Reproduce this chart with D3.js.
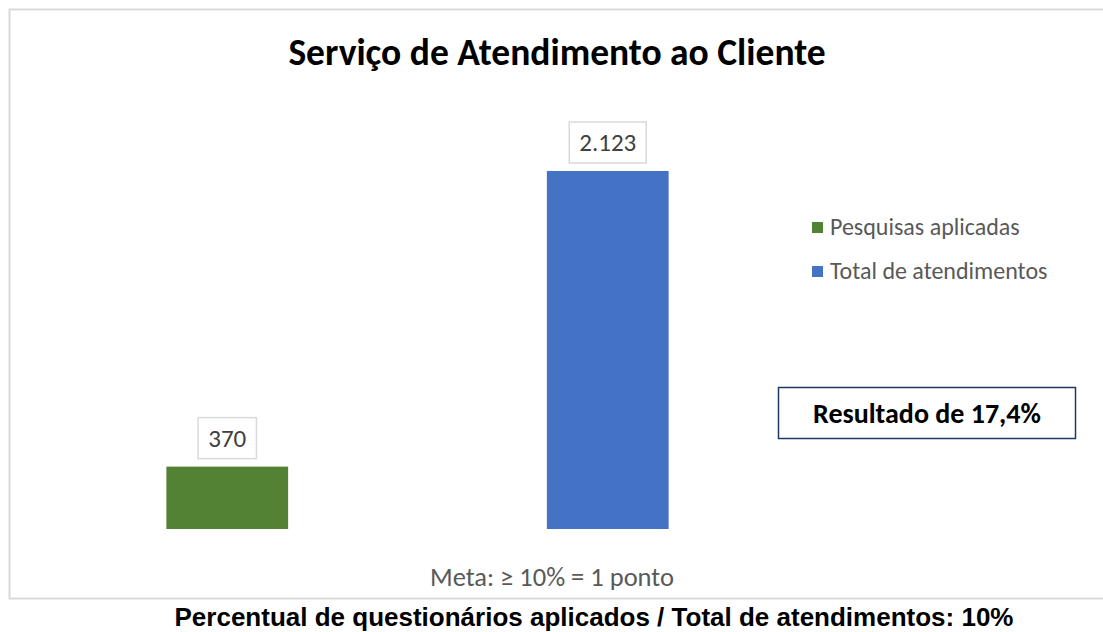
<!DOCTYPE html>
<html><head><meta charset="utf-8">
<script src="https://cdn.jsdelivr.net/npm/d3@7"></script>
<style>body{margin:0;background:#fff}svg{display:block}</style>
</head><body>
<script>
const categories = ["Pesquisas aplicadas", "Total de atendimentos"];
const values = [370, 2123];
const valueLabels = ["370", "2.123"];
const colors = ["#548235", "#4472c4"];
const title = "Serviço de Atendimento ao Cliente";
const resultText = "Resultado de 17,4%";
const metaText = "Meta: ≥ 10% = 1 ponto";
const footText = "Percentual de questionários aplicados / Total de atendimentos: 10%";

const W = 1103, H = 632;
const svg = d3.select("body").append("svg").attr("width", W).attr("height", H);

// chart frame
svg.append("path").attr("d", "M1110,9.5 H9.5 V598.5 H1110")
  .attr("fill", "none").attr("stroke", "#d9d9d9").attr("stroke-width", 2);

const calibri = "Carlito, 'Open Sans', 'Noto Sans', sans-serif";

svg.append("text").attr("x", 557).attr("y", 65).attr("text-anchor", "middle")
  .attr("font-family", calibri).attr("font-weight", "bold").attr("font-size", 37.5)
  .attr("fill", "#000").text(title);

const x = d3.scaleBand().domain(categories).range([37, 798]).paddingInner(0.68).paddingOuter(0.34);
const y = d3.scaleLinear().domain([0, 2123]).range([529, 171]);

svg.selectAll("rect.bar").data(categories).enter().append("rect")
  .attr("x", d => x(d)).attr("width", x.bandwidth())
  .attr("y", (d, i) => y(values[i])).attr("height", (d, i) => y(0) - y(values[i]))
  .attr("fill", (d, i) => colors[i]);

// data labels
const lab = svg.selectAll("g.lab").data(categories).enter().append("g");
lab.each(function(d, i) {
  const g = d3.select(this);
  const cx = x(d) + x.bandwidth() / 2;
  const t = g.append("text").attr("x", cx).attr("y", y(values[i]) - 20)
    .attr("text-anchor", "middle").attr("font-family", calibri).attr("font-size", 25)
    .attr("fill", "#404040").text(valueLabels[i]);
  const bb = t.node().getBBox();
  g.insert("rect", "text").attr("x", cx - bb.width / 2 - 10).attr("y", y(values[i]) - 49)
    .attr("width", bb.width + 20).attr("height", 41)
    .attr("fill", "#fff").attr("stroke", "#d9d9d9").attr("stroke-width", 1.5);
});

// legend
const leg = svg.selectAll("g.leg").data(categories).enter().append("g")
  .attr("transform", (d, i) => `translate(812,${222 + i * 44})`);
leg.append("rect").attr("width", 11).attr("height", 11).attr("fill", (d, i) => colors[i]);
leg.append("text").attr("x", 18).attr("y", 13).attr("font-family", calibri)
  .attr("font-size", 24).attr("fill", "#595959").text(d => d);

// result box
svg.append("rect").attr("x", 778.5).attr("y", 387.5).attr("width", 297).attr("height", 51)
  .attr("fill", "#fff").attr("stroke", "#203864").attr("stroke-width", 1.5);
svg.append("text").attr("x", 927).attr("y", 423).attr("text-anchor", "middle")
  .attr("font-family", calibri).attr("font-weight", "bold").attr("font-size", 28)
  .attr("fill", "#000").text(resultText);

svg.append("text").attr("x", 552).attr("y", 586).attr("text-anchor", "middle")
  .attr("font-family", calibri).attr("font-size", 26.5).attr("fill", "#595959").text(metaText);

svg.append("text").attr("x", 594).attr("y", 626).attr("text-anchor", "middle")
  .attr("font-family", "'Liberation Sans', Arial, sans-serif").attr("font-weight", "bold")
  .attr("font-size", 26).attr("fill", "#000").text(footText);
</script>
</body></html>
